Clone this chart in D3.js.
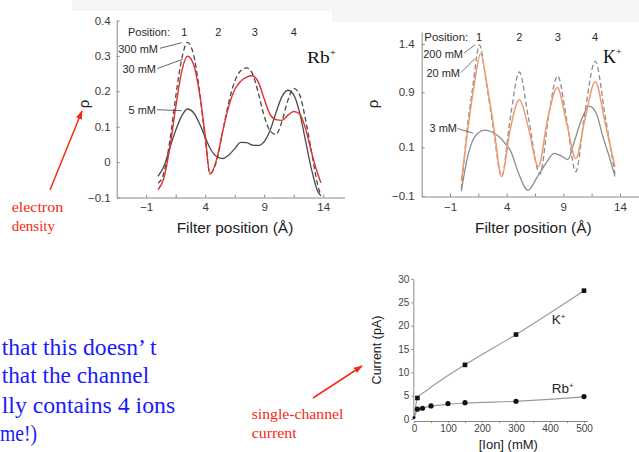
<!DOCTYPE html>
<html><head><meta charset="utf-8">
<script src="https://cdn.jsdelivr.net/npm/d3@7"></script>
<style>body{margin:0;background:#fff}svg{display:block}</style>
</head><body>
<svg width="639" height="452"></svg>
<script>
// ---------- Rb+ electron density (filter position, rho) ----------
const rbX = [0,0.5,1,1.5,2,2.5,3,3.5,4,4.4,5,5.5,6,6.5,7,7.5,8,8.5,9,9.5,10,10.5,11,11.5,12,12.5,13,13.5,13.8];
const rb300 = [-0.06,-0.03,0.06,0.185,0.29,0.338,0.305,0.205,0.065,-0.032,0.008,0.09,0.17,0.228,0.258,0.266,0.25,0.195,0.13,0.088,0.078,0.115,0.174,0.208,0.19,0.12,0.03,-0.06,-0.095];
const rb30  = [-0.078,-0.045,0.04,0.155,0.255,0.299,0.277,0.198,0.075,-0.034,0.012,0.09,0.158,0.205,0.228,0.240,0.244,0.226,0.178,0.134,0.120,0.118,0.132,0.143,0.136,0.095,0.028,-0.030,-0.058];
const rb5   = [-0.04,-0.012,0.04,0.09,0.13,0.15,0.14,0.11,0.07,0.04,0.015,0.01,0.02,0.038,0.056,0.055,0.048,0.047,0.058,0.09,0.14,0.185,0.203,0.19,0.14,0.06,-0.02,-0.08,-0.095];
const rbXTicks = [-1,1.5,4,6.5,9,11.5,14];
const rbYTicks = [-0.1,0,0.1,0.2,0.3,0.4];

// ---------- K+ electron density ----------
const k200X = [0,0.5,1,1.6,2.2,2.8,3.56,4.3,5.12,5.9,6.94,7.7,8.5,9.3,10.1,10.9,11.82,12.7,13.56];
const k200Y = [-0.07,0.35,0.95,1.39,1.0,0.4,-0.02,0.5,1.11,0.55,-0.01,0.55,1.07,0.5,0.0,0.6,1.22,0.55,-0.01];
const k20X  = [0,0.6,1.1,1.7,2.3,2.9,3.56,4.3,5.12,5.9,6.8,7.6,8.47,9.3,10.1,10.9,11.82,12.7,13.56];
const k20Y  = [-0.04,0.4,0.95,1.30,0.95,0.35,-0.02,0.35,0.79,0.4,0.02,0.5,0.95,0.45,0.054,0.5,1.01,0.45,0.02];
const k3X   = [0,0.5,1,1.5,2,2.6,3.2,3.8,4.4,5,5.9,6.6,7.4,8.2,8.8,9.4,10,10.6,11.3,11.9,12.5,13,13.56];
const k3Y   = [-0.08,0.05,0.2,0.31,0.35,0.33,0.27,0.17,0.08,0.0,-0.077,-0.03,0.03,0.075,0.065,0.05,0.2,0.5,0.70,0.6,0.25,0.07,-0.02];
const kXTicks = [-1,1.5,4,6.5,9,11.5,14];
const kYTicks = [-0.1,0.1,0.9,1.4];

// ---------- single-channel current ----------
const ionK = [10,150,300,500];
const curK = [4.5,11.6,18.1,27.5];
const ionRb = [0,10,25,50,100,150,300,500];
const curRb = [0.3,2.1,2.3,2.8,3.3,3.5,3.8,4.8];
const fitKX = [0,10,35,150,300,500];
const fitKY = [0,4.5,6.0,11.6,18.1,27.5];
const fitRbX = [0,10,25,50,100,150,300,500];
const fitRbY = [0,2.0,2.35,2.75,3.15,3.4,3.8,4.75];
const ionTicks = [0,100,200,300,400,500];
const curTicks = [0,5,10,15,20,25,30];

const SANS = "'Liberation Sans', Arial, Helvetica, sans-serif";
const SERIF = "'Liberation Serif', 'Times New Roman', serif";
const svg = d3.select("svg");
const zip = (a,b) => a.map((v,i)=>[v,b[i]]);
const fmtNum = d => d===0 ? "0" : (d<0 ? "\u2212" + Math.abs(d) : String(d));

// faint scanned-figure backgrounds
svg.append("rect").attr("x",72).attr("y",0).attr("width",268).attr("height",11).attr("fill","#f6f6f6");
svg.append("rect").attr("x",332).attr("y",0).attr("width",307).attr("height",22).attr("fill","#f5f5f5");

function styleAxis(g, fs, col){
  g.selectAll(".domain").attr("stroke","#8a8a8a").attr("stroke-width",1);
  g.selectAll(".tick line").attr("stroke","#8a8a8a");
  g.selectAll("text").attr("font-family",SANS).attr("font-size",fs).attr("fill",col||"#3a3a3a");
}

// ================= Rb panel =================
const xRb = d3.scaleLinear().domain([-3.5,15.8]).range([116.7,344.5]);
const yRb = d3.scaleLinear().domain([-0.1,0.4]).range([197.5,20.5]);
svg.append("g").attr("transform","translate(0,197.5)")
  .call(d3.axisBottom(xRb).tickValues(rbXTicks).tickSizeInner(-3).tickSizeOuter(0).tickPadding(5)
    .tickFormat(d => Number.isInteger(d) ? fmtNum(d) : ""))
  .call(g => styleAxis(g, 11.5));
svg.append("g").attr("transform","translate(116.7,0)")
  .call(d3.axisLeft(yRb).tickValues(rbYTicks).tickSizeInner(-3).tickSizeOuter(0).tickPadding(6).tickFormat(fmtNum))
  .call(g => styleAxis(g, 11.5));

const lineRb = d3.line().x(d=>xRb(d[0])).y(d=>yRb(d[1])).curve(d3.curveMonotoneX);
svg.append("path").attr("d", lineRb(zip(rbX,rb5))).attr("fill","none").attr("stroke","#4a4a4a").attr("stroke-width",1.3);
svg.append("path").attr("d", lineRb(zip(rbX,rb300))).attr("fill","none").attr("stroke","#4a4a4a").attr("stroke-width",1.3).attr("stroke-dasharray","5,3");
svg.append("path").attr("d", lineRb(zip(rbX,rb30))).attr("fill","none").attr("stroke","#e0302a").attr("stroke-width",1.4);

// annotations Rb
const annR = svg.append("g").attr("font-family",SANS).attr("fill","#2a2a2a");
annR.append("text").attr("x",128).attr("y",36).attr("font-size",10.5).attr("textLength",42).attr("lengthAdjust","spacingAndGlyphs").text("Position:");
[["1",184.3],["2",218.3],["3",254.7],["4",293.7]].forEach(([t,x])=>annR.append("text").attr("x",x).attr("y",36).attr("text-anchor","middle").attr("font-size",11).text(t));
[["300 mM",158,53,160,48.3,181.7,42.7],["30 mM",156,73,157.5,68.5,182.7,59.3],["5 mM",156,114,157,109.7,181.7,110.7]].forEach(([t,x,y,x1,y1,x2,y2])=>{
  annR.append("text").attr("x",x).attr("y",y).attr("text-anchor","end").attr("font-size",11).text(t);
  svg.append("line").attr("x1",x1).attr("y1",y1).attr("x2",x2).attr("y2",y2).attr("stroke","#555").attr("stroke-width",0.9);
});
const rbLab = svg.append("text").attr("x",307).attr("y",62.5).attr("font-family",SERIF).attr("font-size",17.5).attr("fill","#111")
  .attr("textLength",29).attr("lengthAdjust","spacingAndGlyphs");
rbLab.append("tspan").text("Rb");
rbLab.append("tspan").attr("font-size",10).attr("dy",-7).text("+");
svg.append("text").attr("x",176.7).attr("y",233).attr("font-family",SANS).attr("font-size",14.5).attr("fill","#222")
  .attr("textLength",116.6).attr("lengthAdjust","spacingAndGlyphs").text("Filter position (\u00C5)");
svg.append("text").attr("transform","translate(89,104) rotate(-90)").attr("text-anchor","middle").attr("font-family",SANS).attr("font-size",15).attr("fill","#222").text("\u03C1");

// ================= K panel =================
const xK = d3.scaleLinear().domain([-3.5,15.7]).range([421.7,639.2]);
const yK = d3.scaleLinear().domain([-0.1,0.1,0.9,1.4,1.52]).range([196,147.3,92.3,44,32]);
svg.append("g").attr("transform","translate(0,196.5)")
  .call(d3.axisBottom(xK).tickValues(kXTicks).tickSizeInner(-3).tickSizeOuter(0).tickPadding(6)
    .tickFormat(d => Number.isInteger(d) ? fmtNum(d) : ""))
  .call(g => styleAxis(g, 11.5));
svg.append("g").attr("transform","translate(421.7,0)")
  .call(d3.axisLeft(yK).tickValues(kYTicks).tickSizeInner(-3).tickSizeOuter(0).tickPadding(7).tickFormat(fmtNum))
  .call(g => styleAxis(g, 11.5));
const lineK = d3.line().x(d=>xK(d[0])).y(d=>yK(d[1])).curve(d3.curveMonotoneX);
svg.append("path").attr("d", lineK(zip(k3X,k3Y))).attr("fill","none").attr("stroke","#8c8c8c").attr("stroke-width",1.3);
svg.append("path").attr("d", lineK(zip(k200X,k200Y))).attr("fill","none").attr("stroke","#8c8c8c").attr("stroke-width",1.3).attr("stroke-dasharray","5,3");
svg.append("path").attr("d", lineK(zip(k20X,k20Y))).attr("fill","none").attr("stroke","#ee9a72").attr("stroke-width",1.5);

const annK = svg.append("g").attr("font-family",SANS).attr("fill","#2a2a2a");
annK.append("text").attr("x",424.3).attr("y",41).attr("font-size",11).attr("textLength",44).attr("lengthAdjust","spacingAndGlyphs").text("Position:");
[["1",479],["2",519.3],["3",557.7],["4",595]].forEach(([t,x])=>annK.append("text").attr("x",x).attr("y",41).attr("text-anchor","middle").attr("font-size",11).text(t));
[["200 mM",463,58,464,53,475,45],["20 mM",460,77,461,72.5,475,58.5],["3 mM",457,132,457.5,128.5,473.3,133.3]].forEach(([t,x,y,x1,y1,x2,y2])=>{
  annK.append("text").attr("x",x).attr("y",y).attr("text-anchor","end").attr("font-size",11).text(t);
  svg.append("line").attr("x1",x1).attr("y1",y1).attr("x2",x2).attr("y2",y2).attr("stroke","#666").attr("stroke-width",0.9);
});
const kLab = svg.append("text").attr("x",603).attr("y",63).attr("font-family",SERIF).attr("font-size",18).attr("fill","#111");
kLab.append("tspan").text("K");
kLab.append("tspan").attr("font-size",10).attr("dy",-8).text("+");
svg.append("text").attr("x",475).attr("y",233).attr("font-family",SANS).attr("font-size",14.5).attr("fill","#222")
  .attr("textLength",116.6).attr("lengthAdjust","spacingAndGlyphs").text("Filter position (\u00C5)");
svg.append("text").attr("transform","translate(378,104) rotate(-90)").attr("text-anchor","middle").attr("font-family",SANS).attr("font-size",15).attr("fill","#222").text("\u03C1");

// ================= current panel =================
const xC = d3.scaleLinear().domain([0,510]).range([414,587.4]);
const yC = d3.scaleLinear().domain([0,30]).range([419,279]);
svg.append("g").attr("transform","translate(0,421)")
  .call(d3.axisBottom(xC).tickValues(d3.range(0,501,50)).tickSize(2).tickSizeOuter(0).tickPadding(2)
    .tickFormat(d => ionTicks.includes(d) ? d : ""))
  .call(g => styleAxis(g, 10, "#444"));
svg.append("g").attr("transform","translate(413.3,0)")
  .call(d3.axisLeft(yC).tickValues(curTicks).tickSize(2).tickSizeOuter(0).tickPadding(2))
  .call(g => styleAxis(g, 10, "#444"));
const lineC = d3.line().x(d=>xC(d[0])).y(d=>yC(d[1])).curve(d3.curveMonotoneX);
svg.append("path").attr("d", lineC(zip(fitKX,fitKY))).attr("fill","none").attr("stroke","#9a9a9a").attr("stroke-width",1.2);
svg.append("path").attr("d", lineC(zip(fitRbX,fitRbY))).attr("fill","none").attr("stroke","#9a9a9a").attr("stroke-width",1.2);
svg.selectAll(".sq").data(zip(ionK,curK)).join("rect").attr("class","sq")
  .attr("x",d=>xC(d[0])-2.3).attr("y",d=>yC(d[1])-2.3).attr("width",4.6).attr("height",4.6).attr("fill","#111");
svg.selectAll(".ci").data(zip(ionRb,curRb)).join("circle").attr("class","ci")
  .attr("cx",d=>xC(d[0])).attr("cy",d=>yC(d[1])).attr("r",(d,i)=> i===0 ? 1.5 : 2.6).attr("fill","#111");
const kc = svg.append("text").attr("x",551.7).attr("y",323.5).attr("font-family",SANS).attr("font-size",13.5).attr("fill","#222");
kc.append("tspan").text("K"); kc.append("tspan").attr("font-size",8).attr("dy",-5).text("+");
const rc = svg.append("text").attr("x",551.7).attr("y",392.5).attr("font-family",SANS).attr("font-size",13.5).attr("fill","#222");
rc.append("tspan").text("Rb"); rc.append("tspan").attr("font-size",8).attr("dy",-5).text("+");
svg.append("text").attr("x",508.3).attr("y",449).attr("text-anchor","middle").attr("font-family",SANS).attr("font-size",13).attr("fill","#222").text("[Ion] (mM)");
svg.append("text").attr("transform","translate(381,350) rotate(-90)").attr("text-anchor","middle").attr("font-family",SANS).attr("font-size",12.5).attr("fill","#222").text("Current (pA)");

// ================= slide annotations =================
const defs = svg.append("defs");
defs.append("marker").attr("id","ah").attr("viewBox","0 0 10 10").attr("refX",9).attr("refY",5)
  .attr("markerWidth",6).attr("markerHeight",6).attr("orient","auto")
  .append("path").attr("d","M0,1.5 L10,5 L0,8.5 Z").attr("fill","#f52a14");
svg.append("line").attr("x1",50).attr("y1",190).attr("x2",82).attr("y2",111).attr("stroke","#f52a14").attr("stroke-width",1.5).attr("marker-end","url(#ah)");
svg.append("line").attr("x1",313).attr("y1",398).attr("x2",362).attr("y2",366).attr("stroke","#f52a14").attr("stroke-width",1.5).attr("marker-end","url(#ah)");
const red = svg.append("g").attr("font-family",SERIF).attr("font-size",14).attr("fill","#f52a14");
red.append("text").attr("x",11.7).attr("y",211.5).attr("textLength",51.5).attr("lengthAdjust","spacingAndGlyphs").text("electron");
red.append("text").attr("x",11.7).attr("y",231).attr("textLength",43.3).attr("lengthAdjust","spacingAndGlyphs").text("density");
red.append("text").attr("x",251.7).attr("y",418.5).attr("textLength",91.7).attr("lengthAdjust","spacingAndGlyphs").text("single-channel");
red.append("text").attr("x",251.7).attr("y",437.5).attr("textLength",45).attr("lengthAdjust","spacingAndGlyphs").text("current");
const blue = svg.append("g").attr("font-family",SERIF).attr("font-size",23).attr("fill","#1a1aff");
[["that this doesn\u2019 t",1.7,355,155],["that the channel",1.7,383.3,147.5],["lly contains 4 ions",1.7,412.7,173.5],["me!)",0,440.7,37]].forEach(([t,x,y,w])=>{
  blue.append("text").attr("x",x).attr("y",y).attr("textLength",w).attr("lengthAdjust","spacingAndGlyphs").text(t);
});
</script>
</body></html>
